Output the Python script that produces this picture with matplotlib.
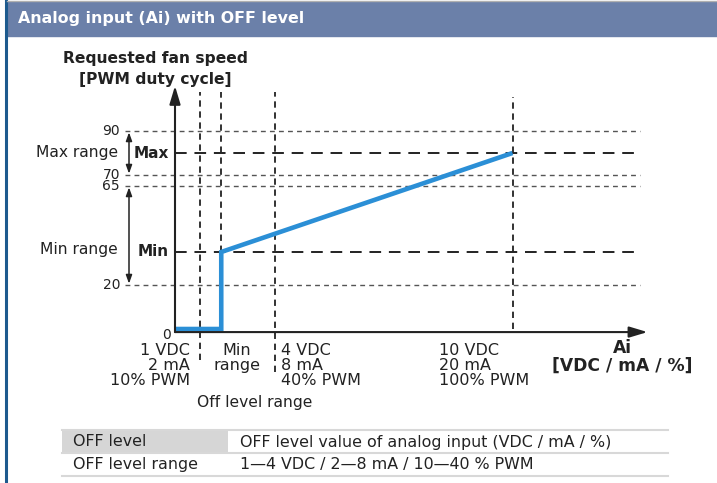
import matplotlib.pyplot as plt
from matplotlib.patches import Rectangle

############## DATA ##############
title = "Analog input (Ai) with OFF level"
y_label = "Requested fan speed\n[PWM duty cycle]"
x_label = "Ai\n[VDC / mA / %]"

# y levels in % duty cycle
level_ticks = [0, 20, 65, 70, 90]
max_range = (70, 90)
min_range = (20, 65)
max_level = 80
min_level = 35

# schematic x positions (not to scale)
off_x = 1.0          # 1 VDC / 2 mA / 10 % PWM
min_x = 1.85         # Min range
four_x = 4.0         # 4 VDC / 8 mA / 40 % PWM
ten_x = 13.5         # 10 VDC / 20 mA / 100 % PWM

curve_x = [0, min_x, min_x, ten_x]
curve_y = [0, 0, min_level, max_level]

x_notes = ["1 VDC\n2 mA\n10% PWM", "Min\nrange", "4 VDC\n8 mA\n40% PWM", "10 VDC\n20 mA\n100% PWM"]

table_rows = [("OFF level", "OFF level value of analog input (VDC / mA / %)"),
              ("OFF level range", "1\u20144 VDC / 2\u20148 mA / 10\u201440 % PWM")]

############## PLOT ##############
W, H = 717, 483
fig = plt.figure(figsize=(W / 100, H / 100), dpi=100)

# overlay in pixel coordinates for frame, header and table
ov = fig.add_axes([0, 0, 1, 1])
ov.set_xlim(0, W)
ov.set_ylim(H, 0)
ov.axis('off')
ov.plot([6, 6], [0, H], color='#1d5a8e', lw=2.2)
ov.plot([7, W], [1, 1], color='#b0b0b0', lw=1)
ov.add_patch(Rectangle((7, 2), W - 7, 34, color='#6b80a9'))
ov.text(18, 19, title, color='white', fontsize=11.4, fontweight='bold', va='center', ha='left')

# table
ov.add_patch(Rectangle((62, 430), 166, 23, color='#d6d6d6', lw=0))
for yy in [430, 453, 476]:
    ov.plot([62, 668], [yy, yy], color='#d8d8d8', lw=1.5)
for i, (a, b) in enumerate(table_rows):
    yc = 442 + 23 * i
    ov.text(73, yc, a, fontsize=11.4, color='#222', va='center')
    ov.text(240, yc, b, fontsize=11.4, color='#222', va='center')

# chart axes: x=0 at px 175 (25 px/unit), y=0 at px 329 (2.2 px/unit)
ax = fig.add_axes([0, 0, 1, 1])
ax.patch.set_alpha(0)
ax.set_xlim(-175 / 25, (W - 175) / 25)
ax.set_ylim(-154 / 2.2, (H - 154) / 2.2)
ax.axis('off')

dark = '#222222'
x_end = 18.6
y_top = 107.7

# thin dashed level lines
for v in level_ticks[1:]:
    ax.plot([-2.0, x_end], [v, v], color='#555555', lw=1, dashes=(3.5, 3))
    ax.text(-2.2, v, str(v), fontsize=10, ha='right', va='center', color=dark)
ax.text(-0.15, -2.8, "0", fontsize=10, ha='right', va='center', color=dark)

# Max / Min lines
for v, lab in [(max_level, "Max"), (min_level, "Min")]:
    ax.plot([0, x_end], [v, v], color=dark, lw=1.4, dashes=(6, 4))
    ax.text(-0.25, v, lab, fontsize=11, fontweight='bold', ha='right', va='center', color=dark)

# range arrows
for (lo, hi), lab in [(max_range, "Max range"), (min_range, "Min range")]:
    ax.annotate('', xy=(-1.84, hi - 0.6), xytext=(-1.84, lo + 0.6),
                arrowprops=dict(arrowstyle='<|-|>,head_length=0.5,head_width=0.18', lw=1.1,
                                color=dark, shrinkA=0, shrinkB=0))
ax.text(-2.28, max_level, "Max range", fontsize=11.2, ha='right', va='center', color=dark)
ax.text(-2.28, min_level + 1, "Min range", fontsize=11.2, ha='right', va='center', color=dark)

# vertical dashed guides
for xv, lo, hi in [(off_x, -14.1, y_top), (min_x, 0, y_top), (four_x, -19.5, y_top), (ten_x, 0, 105.5)]:
    ax.plot([xv, xv], [lo, hi], color=dark, lw=1.3, dashes=(3.5, 2.6))

# axes arrows
ax.annotate('', xy=(0, 110.5), xytext=(0, -1.4),
            arrowprops=dict(arrowstyle='-|>,head_length=1.1,head_width=0.33', lw=1.5,
                            color=dark, shrinkA=0, shrinkB=0))
ax.annotate('', xy=(18.9, -1.4), xytext=(0, -1.4),
            arrowprops=dict(arrowstyle='-|>,head_length=1.1,head_width=0.33', lw=1.5,
                            color=dark, shrinkA=0, shrinkB=0))

# curve
ax.plot(curve_x, curve_y, color='#2b8fd6', lw=3.3, solid_joinstyle='miter', solid_capstyle='butt')

# labels
ax.text(-0.8, 118.3, y_label, fontsize=11.2, fontweight='bold', ha='center', va='center',
        color=dark, linespacing=1.5)
ax.text(17.9, -4.6, x_label, fontsize=12.3, fontweight='bold', ha='center', va='top',
        color=dark, linespacing=0.95)
note_kw = dict(fontsize=11.5, va='top', color=dark, linespacing=1.0)
ax.text(0.6, -6.4, x_notes[0], ha='right', **note_kw)
ax.text(2.48, -6.4, x_notes[1], ha='center', **note_kw)
ax.text(4.24, -6.4, x_notes[2], ha='left', **note_kw)
ax.text(10.56, -6.4, x_notes[3], ha='left', **note_kw)
ax.text(3.2, -33.2, "Off level range", fontsize=11.2, ha='center', va='center', color=dark)

fig.savefig('out.png', dpi=100)
